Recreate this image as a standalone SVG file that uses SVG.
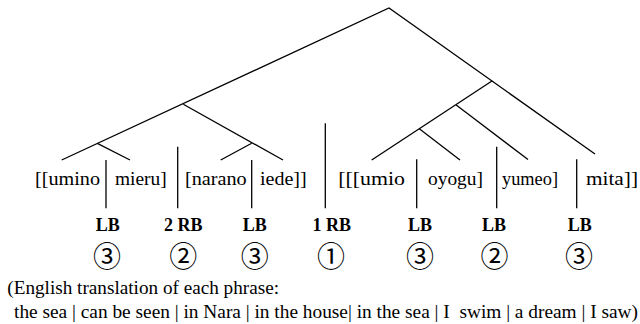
<svg xmlns="http://www.w3.org/2000/svg" width="640" height="324" viewBox="0 0 640 324">
<style>
.ln{stroke:#000;stroke-width:1.3;fill:none;stroke-linecap:butt}
.w{font-family:'Liberation Serif','DejaVu Serif',serif;font-size:19px;fill:#000}
.lb{font-family:'Liberation Serif','DejaVu Serif',serif;font-size:18px;font-weight:bold;fill:#000;text-anchor:middle}
.c{font-family:'Noto Sans CJK JP','DejaVu Sans',sans-serif;font-size:28px;fill:#000;text-anchor:middle}
.t{font-family:'Liberation Serif','DejaVu Serif',serif;font-size:19px;fill:#000}
</style>
<rect width="640" height="324" fill="#fff"/>
<g id="connectors">
<path class="ln" d="M61.7,160 L389,8 L595,154"/>
<path class="ln" d="M97.3,143.3 L130,160"/>
<path class="ln" d="M183.3,104.3 L283,160"/>
<path class="ln" d="M251.7,143.3 L220.7,160"/>
<path class="ln" d="M492.3,80.7 L371.7,160"/>
<path class="ln" d="M456.2,105 L528,159.5"/>
<path class="ln" d="M419.3,128.7 L460,160"/>
<path class="ln" d="M106,160 V208.3"/>
<path class="ln" d="M177.7,146.7 V208.3"/>
<path class="ln" d="M251.7,160 V208.3"/>
<path class="ln" d="M325.3,123.3 V208.3"/>
<path class="ln" d="M416.7,159.3 V208.3"/>
<path class="ln" d="M496.7,146.7 V208.3"/>
<path class="ln" d="M576.7,159.3 V208.3"/>
</g>
<g id="words">
<text class="w" x="35" y="185" textLength="65" lengthAdjust="spacingAndGlyphs">[[umino</text>
<text class="w" x="115" y="185" textLength="51.7" lengthAdjust="spacingAndGlyphs">mieru]</text>
<text class="w" x="185" y="185" textLength="61.7" lengthAdjust="spacingAndGlyphs">[narano</text>
<text class="w" x="260" y="185" textLength="46.7" lengthAdjust="spacingAndGlyphs">iede]]</text>
<text class="w" x="338.3" y="185" textLength="66.7" lengthAdjust="spacingAndGlyphs">[[[umio</text>
<text class="w" x="428" y="185" textLength="55" lengthAdjust="spacingAndGlyphs">oyogu]</text>
<text class="w" x="502" y="185" textLength="56" lengthAdjust="spacingAndGlyphs">yumeo]</text>
<text class="w" x="586" y="185" textLength="52" lengthAdjust="spacingAndGlyphs">mita]]</text>
</g>
<g id="labels">
<text class="lb" x="107.7" y="231">LB</text>
<text class="lb" x="183.3" y="231">2 RB</text>
<text class="lb" x="254.7" y="231">LB</text>
<text class="lb" x="331.7" y="231">1 RB</text>
<text class="lb" x="420" y="231">LB</text>
<text class="lb" x="494" y="231">LB</text>
<text class="lb" x="579.7" y="231">LB</text>
</g>
<g id="circles">
<text class="c" x="107" y="267">③</text>
<text class="c" x="183.3" y="267">②</text>
<text class="c" x="254.7" y="267">③</text>
<text class="c" x="331" y="267">①</text>
<text class="c" x="420" y="267">③</text>
<text class="c" x="494.5" y="267">②</text>
<text class="c" x="579" y="267">③</text>
</g>
<g id="translation">
<text class="t" x="7.3" y="294.3" textLength="271.7" lengthAdjust="spacingAndGlyphs">(English translation of each phrase:</text>
<text class="t" x="14" y="318" textLength="624" lengthAdjust="spacingAndGlyphs" xml:space="preserve">the sea | can be seen | in Nara | in the house| in the sea | I  swim | a dream | I saw)</text>
</g>
</svg>
